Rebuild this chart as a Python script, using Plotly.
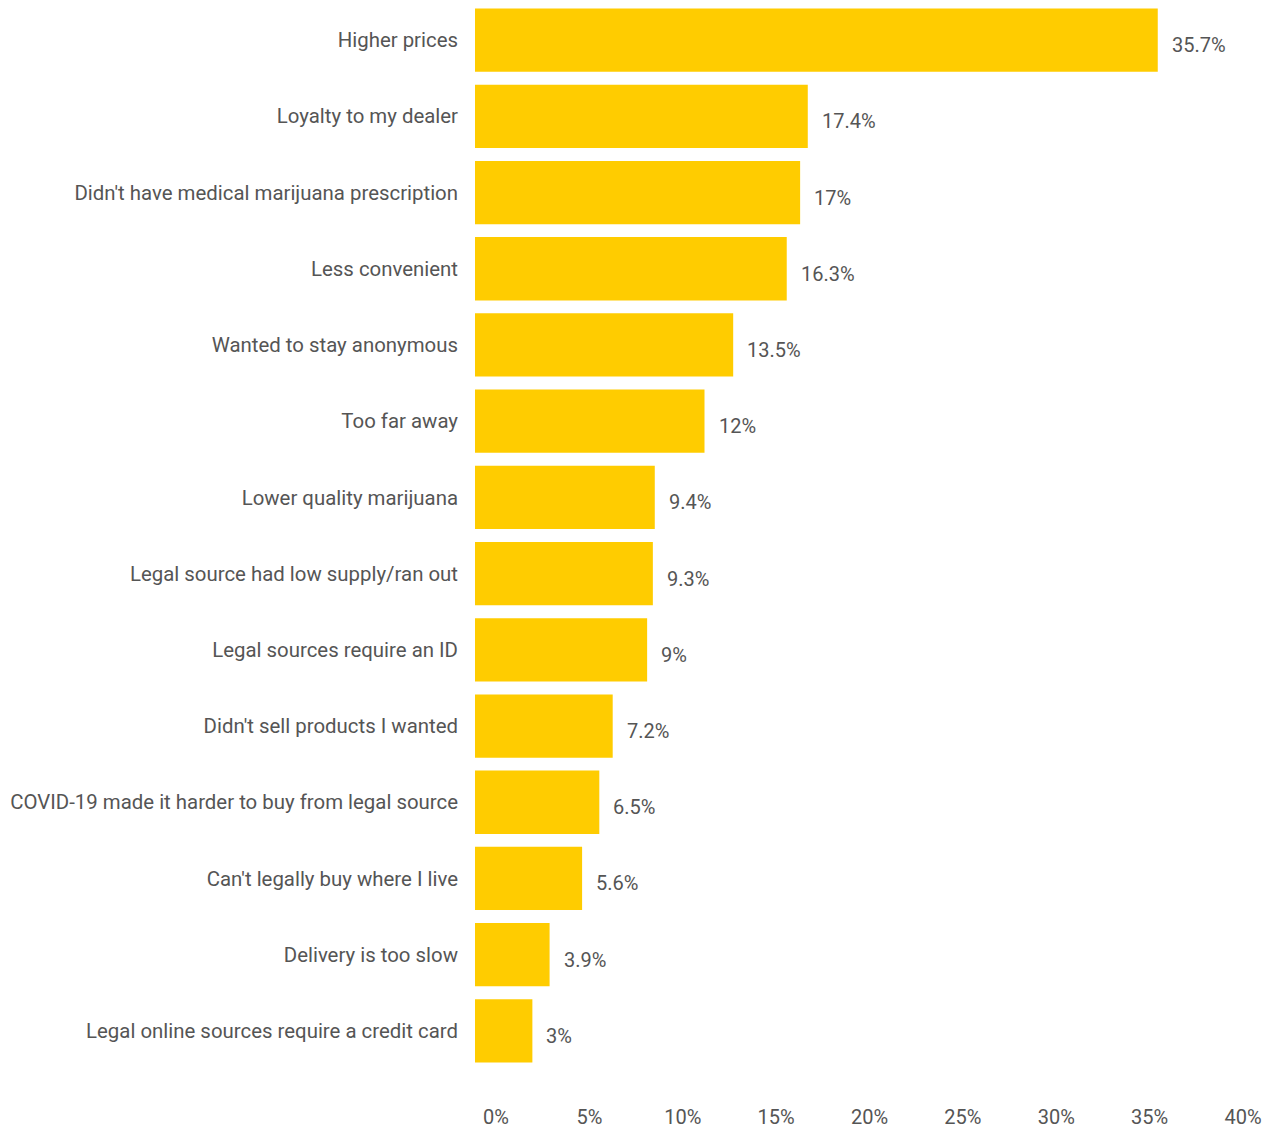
import plotly.graph_objects as go

categories = [
    "Higher prices",
    "Loyalty to my dealer",
    "Didn't have medical marijuana prescription",
    "Less convenient",
    "Wanted to stay anonymous",
    "Too far away",
    "Lower quality marijuana",
    "Legal source had low supply/ran out",
    "Legal sources require an ID",
    "Didn't sell products I wanted",
    "COVID-19 made it harder to buy from legal source",
    "Can't legally buy where I live",
    "Delivery is too slow",
    "Legal online sources require a credit card",
]
values = [35.7, 17.4, 17, 16.3, 13.5, 12, 9.4, 9.3, 9, 7.2, 6.5, 5.6, 3.9, 3]
tick_vals = [0, 5, 10, 15, 20, 25, 30, 35, 40]
tick_text = ["0%", "5%", "10%", "15%", "20%", "25%", "30%", "35%", "40%"]

FONT = "Roboto, Arial, sans-serif"
GREY = "#555555"
BAR = "#FFCC00"
FS = 20

fig = go.Figure()
fig.add_trace(go.Bar(
    x=values,
    y=categories,
    orientation="h",
    marker=dict(color=BAR, line=dict(width=0)),
    hoverinfo="x+y",
))
# empty trace on a separate label-only subplot so its x axis is drawn
fig.add_trace(go.Scatter(x=[None], y=[None], xaxis="x2", yaxis="y2",
                         showlegend=False, hoverinfo="skip"))

for c, v in zip(categories, values):
    fig.add_annotation(
        x=v, y=c, text=f"{v:g}%", showarrow=False,
        xanchor="left", xshift=12, yanchor="middle", yshift=-5,
        font=dict(family=FONT, size=FS, color=GREY),
    )

W, H = 1270, 1129
L, R = 475, 27
plot_w = W - L - R  # 768
fig.update_layout(
    width=W, height=H,
    margin=dict(l=L, r=R, t=2, b=60, autoexpand=False),
    paper_bgcolor="white", plot_bgcolor="rgba(0,0,0,0)",
    bargap=0.17,
    showlegend=False,
    font=dict(family=FONT, size=FS, color=GREY),
    xaxis=dict(
        domain=[0, 765 / plot_w], range=[0, 40],
        showgrid=False, zeroline=False, showline=False, ticks="",
        showticklabels=False,
    ),
    xaxis2=dict(
        domain=[21 / plot_w, 1.0], range=[0, 40], anchor="y2",
        tickvals=tick_vals, ticktext=tick_text,
        showgrid=False, zeroline=False, showline=False, ticks="",
        ticklabelstandoff=34, fixedrange=True,
        tickfont=dict(family=FONT, size=FS, color=GREY),
    ),
    yaxis=dict(
        autorange="reversed", showgrid=False, zeroline=False, showline=False,
        ticks="", ticklabelstandoff=16,
        tickfont=dict(family=FONT, size=20.4, color=GREY),
    ),
    yaxis2=dict(
        domain=[0, 1], range=[0, 1], anchor="x2", visible=False,
        showgrid=False, zeroline=False, fixedrange=True,
    ),
)

fig.write_html("out.html", config={"displayModeBar": False},
               post_script="document.body.style.margin='0';document.body.style.overflow='hidden';")
